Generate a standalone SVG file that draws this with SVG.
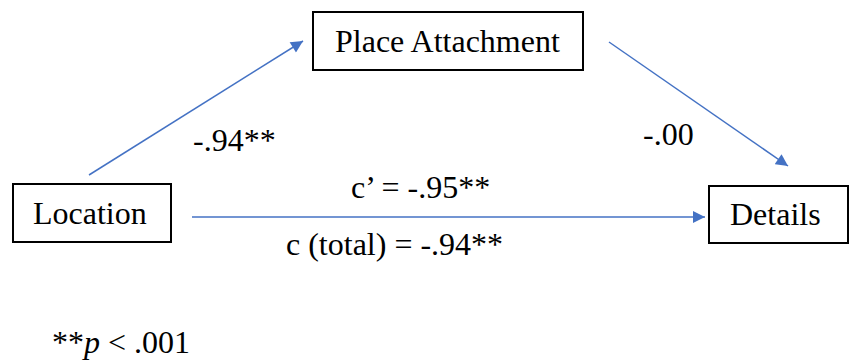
<svg xmlns="http://www.w3.org/2000/svg" width="850" height="360" viewBox="0 0 850 360">
<defs>
<marker id="arr" viewBox="0 0 10 10" refX="10" refY="5" markerWidth="13" markerHeight="12" markerUnits="userSpaceOnUse" orient="auto"><path d="M0,0 L10,5 L0,10 z" fill="#4472C4"/></marker>
</defs>
<rect width="850" height="360" fill="#fff"/>
<g id="connectors" stroke="#4472C4" stroke-width="1.5" fill="none">
<line x1="89" y1="175" x2="303" y2="41" marker-end="url(#arr)"/>
<line x1="609" y1="42" x2="788" y2="166" marker-end="url(#arr)"/>
<line x1="192" y1="217" x2="705" y2="217" marker-end="url(#arr)"/>
</g>
<g id="node-place">
<rect x="313" y="12" width="270" height="58" fill="#fff" stroke="#000" stroke-width="2"/>
<text x="335" y="52" font-family="Liberation Serif" font-size="32">Place Attachment</text>
</g>
<g id="node-location">
<rect x="13" y="184" width="158" height="58" fill="#fff" stroke="#000" stroke-width="2"/>
<text x="33" y="224" font-family="Liberation Serif" font-size="32">Location</text>
</g>
<g id="node-details">
<rect x="709" y="186" width="139" height="57" fill="#fff" stroke="#000" stroke-width="2"/>
<text x="730" y="225" font-family="Liberation Serif" font-size="32">Details</text>
</g>
<g id="labels">
<text x="193" y="151" font-family="Liberation Serif" font-size="32">-.94**</text>
<text x="643" y="145" font-family="Liberation Serif" font-size="32">-.00</text>
<text x="351" y="198" font-family="Liberation Serif" font-size="32">c&#8217; = -.95**</text>
<text x="286" y="255" font-family="Liberation Serif" font-size="32">c (total) = -.94**</text>
<text x="52" y="353" font-family="Liberation Serif" font-size="32">**<tspan font-style="italic">p</tspan> &lt; .001</text>
</g>
</svg>
